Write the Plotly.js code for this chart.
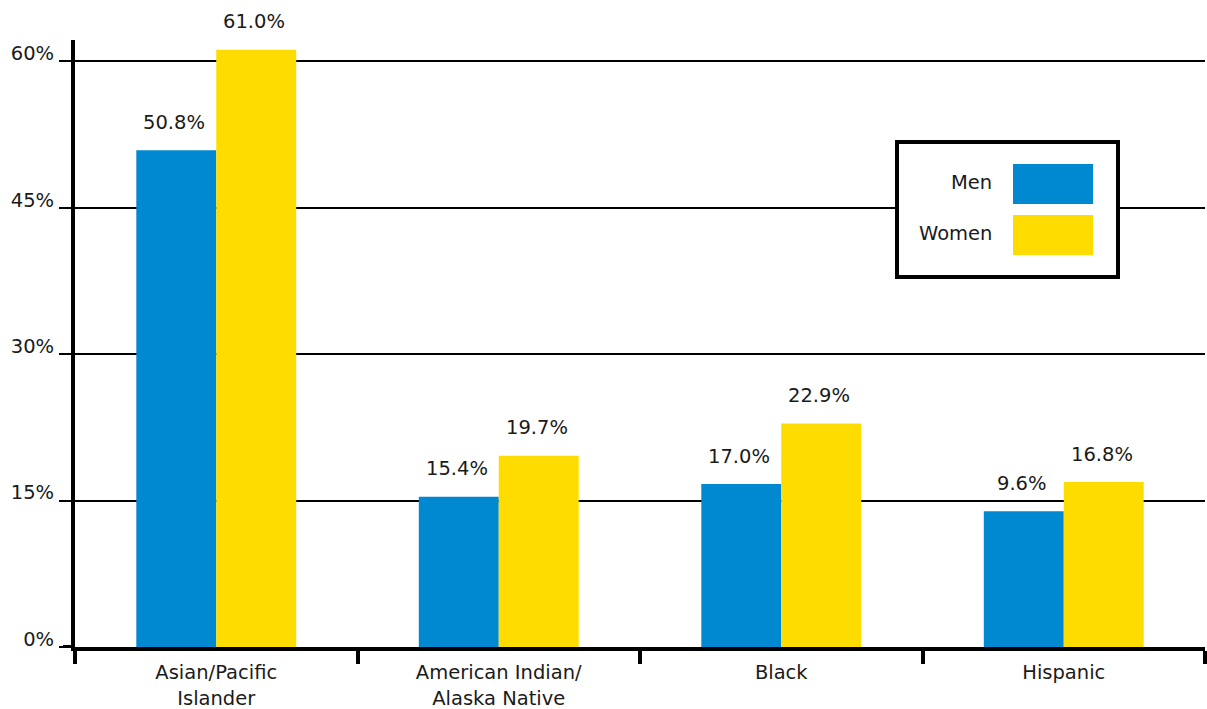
<!DOCTYPE html>
<html>
<head>
<meta charset="utf-8">
<script src="https://cdn.plot.ly/plotly-3.0.1.min.js"></script>
<style>html,body{margin:0;padding:0;background:#fff;}#chart{width:1207px;height:709px;}</style>
</head>
<body>
<div id="chart"></div>
<script>
// ---- data ----
var categories = ["Asian/Pacific<br>Islander", "American Indian/<br>Alaska Native", "Black", "Hispanic"];
var menValues = [50.9, 15.4, 16.7, 13.9];
var womenValues = [61.2, 19.6, 22.9, 16.9];
var menLabels = ["50.8%", "15.4%", "17.0%", "9.6%"];
var womenLabels = ["61.0%", "19.7%", "22.9%", "16.8%"];
var seriesNames = ["Men", "Women"];
var yTickVals = [0, 15, 30, 45, 60];
var yTickText = ["0%", "15%", "30%", "45%", "60%"];

var BLUE = "#0089D0", YELLOW = "#FEDC00";
var FONT = "'DejaVu Sans', sans-serif";
var FS = 19.5;
var TXT = "#1a1a1a";

// plot-area geometry (pixels) for paper conversion of decorations
var L = 75, T = 40, W = 1130, H = 607;
function px(x) { return (x - L) / W; }
function py(y) { return (T + H - y) / H; }

var traces = [
  { type: "bar", name: seriesNames[0], x: categories, y: menValues, marker: {color: BLUE}, hoverinfo: "skip" },
  { type: "bar", name: seriesNames[1], x: categories, y: womenValues, marker: {color: YELLOW}, hoverinfo: "skip" }
];

var annotations = [];
var halfBar = 40;
categories.forEach(function (c, i) {
  annotations.push({ x: c, y: menValues[i], xref: "x", yref: "y", text: menLabels[i], showarrow: false,
    xshift: -halfBar - 2, yshift: 28, yanchor: "middle", font: {family: FONT, size: FS, color: TXT} });
  annotations.push({ x: c, y: womenValues[i], xref: "x", yref: "y", text: womenLabels[i], showarrow: false,
    xshift: halfBar - 2, yshift: 28, yanchor: "middle", font: {family: FONT, size: FS, color: TXT} });
});

// legend drawn as a boxed key (text left of swatch)
var shapes = [
  { type: "line", xref: "paper", yref: "y", x0: px(63), x1: 0, y0: 0, y1: 0, line: {color: "#000", width: 4} },
  { type: "rect", xref: "paper", yref: "paper", x0: px(897), x1: px(1118), y0: py(277), y1: py(142),
    fillcolor: "#fff", line: {color: "#000", width: 4}, layer: "above" },
  { type: "rect", xref: "paper", yref: "paper", x0: px(1013), x1: px(1093), y0: py(204), y1: py(164),
    fillcolor: BLUE, line: {width: 0}, layer: "above" },
  { type: "rect", xref: "paper", yref: "paper", x0: px(1013), x1: px(1093), y0: py(255), y1: py(215),
    fillcolor: YELLOW, line: {width: 0}, layer: "above" }
];
annotations.push({ xref: "paper", yref: "paper", x: px(994), y: py(183), xanchor: "right", yanchor: "middle",
  text: seriesNames[0], showarrow: false, font: {family: FONT, size: FS, color: TXT} });
annotations.push({ xref: "paper", yref: "paper", x: px(994), y: py(234), xanchor: "right", yanchor: "middle",
  text: seriesNames[1], showarrow: false, font: {family: FONT, size: FS, color: TXT} });

var layout = {
  width: 1207, height: 709,
  margin: {l: L, r: 1207 - L - W, t: T, b: 709 - T - H, pad: 0},
  paper_bgcolor: "#fff", plot_bgcolor: "#fff",
  barmode: "group", bargap: 0.434, bargroupgap: 0,
  showlegend: false,
  font: {family: FONT, size: FS, color: TXT},
  xaxis: {
    type: "category", showline: true, linecolor: "#000", linewidth: 4,
    ticks: "outside", tickson: "boundaries", ticklen: 13, tickwidth: 4, tickcolor: "#000",
    showgrid: false, zeroline: false, tickfont: {family: FONT, size: FS, color: TXT},
    ticklabelstandoff: 5, fixedrange: true
  },
  yaxis: {
    range: [0, 62.2], tickvals: yTickVals, ticktext: yTickText,
    showline: true, linecolor: "#000", linewidth: 4,
    ticks: "outside", ticklen: 12, tickwidth: 2, tickcolor: "#000",
    showgrid: true, gridcolor: "#000", gridwidth: 2, zeroline: false,
    ticklabelshift: -8, ticklabelstandoff: 1,
    tickfont: {family: FONT, size: FS, color: TXT}, fixedrange: true
  },
  shapes: shapes,
  annotations: annotations
};

Plotly.newPlot("chart", traces, layout, {displayModeBar: false, staticPlot: true});
</script>
</body>
</html>
